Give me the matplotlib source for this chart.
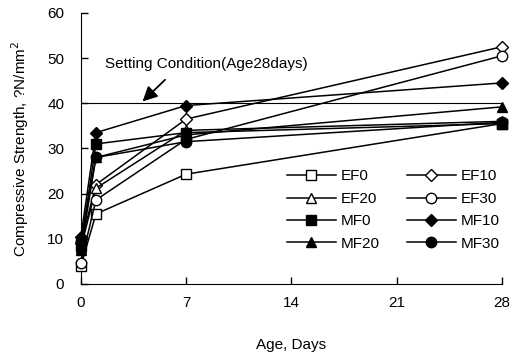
import numpy as np
import matplotlib.pyplot as plt

plt.rcParams['font.family'] = ['Liberation Sans', 'DejaVu Sans']

# 재령(일)
age = [0, 1, 7, 28]

# 압축강도 (N/mm2)
EF0 = [4.0, 15.5, 24.3, 35.5]
EF10 = [9.0, 22.0, 36.5, 52.5]
EF20 = [8.0, 21.2, 34.0, 36.0]
EF30 = [4.6, 18.6, 32.0, 50.5]
MF0 = [8.5, 31.0, 33.5, 35.5]
MF10 = [10.5, 33.5, 39.5, 44.5]
MF20 = [7.5, 28.0, 33.0, 39.2]
MF30 = [9.5, 28.0, 31.5, 35.8]

names = ['EF0', 'EF10', 'EF20', 'EF30', 'MF0', 'MF10', 'MF20', 'MF30']
series = [EF0, EF10, EF20, EF30, MF0, MF10, MF20, MF30]
markers = ['s', 'D', '^', 'o', 's', 'D', '^', 'o']
filled = [False, False, False, False, True, True, True, True]

fig = plt.figure(figsize=(5.12, 3.59), dpi=100)
ax = fig.add_axes([0.158, 0.209, 0.822, 0.755])

ax.axhline(40, color='black', lw=0.8, zorder=1)

handles = {}
for name, vals, m, f in zip(names, series, markers, filled):
    ms = 6.5 if m == 'D' else 7.5
    h, = ax.plot(age, vals, color='black', lw=1.1, marker=m, markersize=ms,
                 markerfacecolor='black' if f else 'white',
                 markeredgecolor='black', markeredgewidth=1.0,
                 label=name, clip_on=False, zorder=3)
    handles[name] = h

ax.text(1.6, 48.6, 'Setting Condition(Age28days)', fontsize=11,
        ha='left', va='center')
ax.annotate('', xy=(4.1, 40.4), xytext=(5.6, 45.2),
            arrowprops=dict(arrowstyle='-|>', color='black', lw=1.3,
                            mutation_scale=22, shrinkA=0, shrinkB=0))

ax.set_xlim(0, 28)
ax.set_ylim(0, 60)
ax.set_xticks([0, 7, 14, 21, 28])
ax.set_yticks(np.arange(0, 61, 10))
ax.spines['top'].set_visible(False)
ax.spines['right'].set_visible(False)
ax.tick_params(direction='in', length=5, labelsize=11, width=1)
ax.tick_params(axis='x', pad=9)
ax.tick_params(axis='y', pad=12)

ax.set_xlabel('Age, Days', fontsize=11, labelpad=20)
ax.set_ylabel(r'Compressive Strength, ?N/mm$^2$', fontsize=11, labelpad=12)

# 범례는 행 단위로: EF0 EF10 / EF20 EF30 / MF0 MF10 / MF20 MF30
order = ['EF0', 'EF20', 'MF0', 'MF20', 'EF10', 'EF30', 'MF10', 'MF30']
ax.legend([handles[n] for n in order], order, ncol=2, frameon=False,
          fontsize=11, loc='upper left', bbox_to_anchor=(0.475, 0.445),
          handlelength=3.2, handletextpad=0.3, columnspacing=1.8,
          labelspacing=0.55, borderaxespad=0)

fig.savefig('out.png', dpi=100)
